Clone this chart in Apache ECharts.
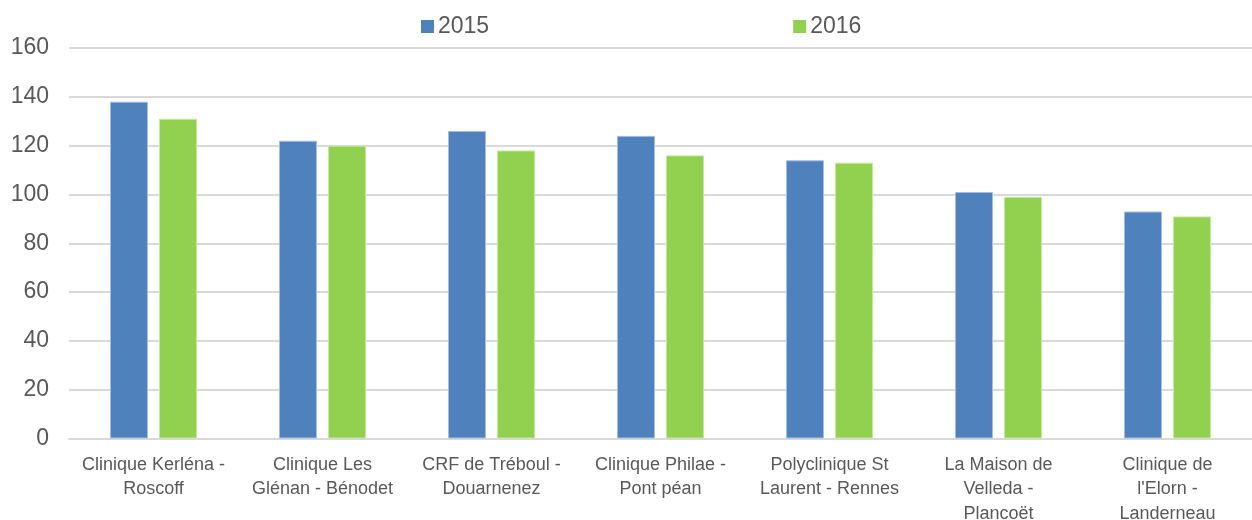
<!DOCTYPE html>
<html>
<head>
<meta charset="utf-8">
<script src="https://cdn.jsdelivr.net/npm/echarts@6/dist/echarts.min.js"></script>
<style>
html, body { margin: 0; padding: 0; background: #fff; }
#chart { width: 1252px; height: 520px; }
</style>
</head>
<body>
<div id="chart"></div>
<script>
// catégories (retours à la ligne comme sur l'original)
var categories = [
    'Clinique Kerléna -\nRoscoff',
    'Clinique Les\nGlénan - Bénodet',
    'CRF de Tréboul -\nDouarnenez',
    'Clinique Philae -\nPont péan',
    'Polyclinique St\nLaurent - Rennes',
    'La Maison de\nVelleda -\nPlancoët',
    'Clinique de\nl\'Elorn -\nLanderneau'
];
var values2015 = [138, 122, 126, 124, 114, 101, 93];
var values2016 = [131, 120, 118, 116, 113, 99, 91];
var yTicks = [0, 20, 40, 60, 80, 100, 120, 140, 160];

var chart = echarts.init(document.getElementById('chart'));

var textColor = '#595959';
var font = 'Liberation Sans';

var option = {
    animation: false,
    textStyle: { fontFamily: font },
    legend: {
        top: 10,
        left: 416,
        itemWidth: 13,
        itemHeight: 13,
        itemGap: 304,
        icon: 'rect',
        itemStyle: { borderWidth: 0 },
        textStyle: { color: textColor, fontSize: 23, fontFamily: font, padding: [0, 0, 0, -1] },
        data: ['2015', '2016']
    },
    grid: {
        left: 69,
        right: 0,
        top: 48,
        bottom: 81.5,
        outerBoundsMode: 'none',
        containLabel: false
    },
    xAxis: {
        type: 'category',
        data: categories,
        axisTick: { show: false },
        axisLine: { lineStyle: { color: '#d9d9d9', width: 2 } },
        axisLabel: {
            interval: 0,
            margin: 14,
            color: textColor,
            fontSize: 18,
            lineHeight: 24.5,
            fontFamily: font
        }
    },
    yAxis: {
        type: 'value',
        min: yTicks[0],
        max: yTicks[yTicks.length - 1],
        interval: yTicks[1] - yTicks[0],
        axisLine: { show: false },
        axisTick: { show: false },
        splitLine: { lineStyle: { color: '#d9d9d9', width: 2 } },
        axisLabel: {
            color: textColor,
            fontSize: 23,
            margin: 20,
            fontFamily: font
        }
    },
    series: [
        {
            name: '2015',
            type: 'bar',
            data: values2015,
            barWidth: '22.5%',
            barGap: '29%',
            itemStyle: { color: '#4f81bd', borderColor: '#a7bfe0', borderWidth: 1 }
        },
        {
            name: '2016',
            type: 'bar',
            data: values2016,
            barWidth: '22.5%',
            itemStyle: { color: '#92d050', borderColor: '#c5e8a3', borderWidth: 1 }
        }
    ]
};

chart.setOption(option);
</script>
</body>
</html>
